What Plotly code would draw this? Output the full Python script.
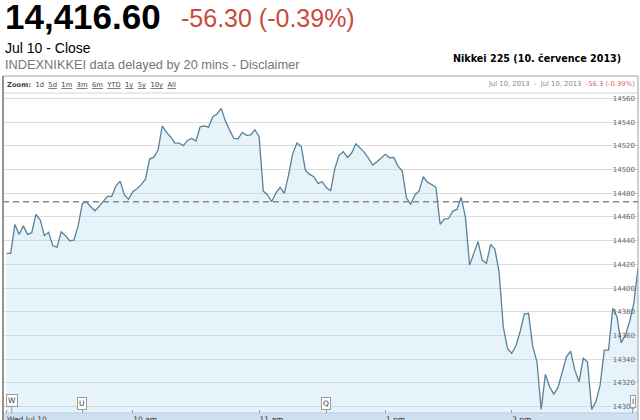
import plotly.graph_objects as go

# ---- data -------------------------------------------------------------
# trading-session minutes since 9:00 open (lunch break 11:30-12:30 removed), 2-minute samples
session_minutes = list(range(0, 301, 2))
prices = [
    14429.3, 14429.3, 14453.7, 14445.3, 14452.6, 14445.3, 14446.7, 14462.2, 14457.6, 14444.2,
    14447.0, 14435.7, 14434.6, 14447.5, 14444.2, 14439.9, 14440.5, 14452.3, 14471.1, 14472.8,
    14468.6, 14465.2, 14468.9, 14473.4, 14477.4, 14477.4, 14486.3, 14490.2, 14478.5, 14475.0,
    14481.2, 14483.7, 14487.2, 14491.9, 14508.8, 14510.4, 14516.4, 14536.9, 14531.3, 14527.4,
    14522.3, 14522.3, 14520.1, 14524.5, 14526.2, 14524.0, 14536.0, 14536.8, 14535.7, 14544.5,
    14546.8, 14551.5, 14540.8, 14533.2, 14526.2, 14525.9, 14531.3, 14528.8, 14529.1, 14533.5,
    14527.6, 14481.8, 14478.5, 14472.8, 14480.4, 14484.9, 14479.9, 14495.3, 14513.6, 14522.3,
    14519.5, 14499.5, 14495.9, 14493.9, 14488.3, 14489.7, 14484.6, 14482.1, 14500.9, 14512.2,
    14515.0, 14510.2, 14514.1, 14521.7, 14517.8, 14514.4, 14509.3, 14503.8, 14506.5, 14509.3,
    14512.8, 14509.9, 14510.2, 14502.9, 14498.7, 14476.2, 14470.6, 14478.5, 14481.8, 14493.9,
    14489.1, 14487.4, 14484.9, 14453.7, 14458.2, 14458.7, 14464.9, 14466.3, 14476.5, 14460.1,
    14419.4, 14429.3, 14439.1, 14423.6, 14420.8, 14436.9, 14432.9, 14413.8, 14367.4, 14349.2,
    14344.9, 14351.4, 14363.2, 14378.1, 14378.7, 14350.6, 14337.9, 14297.7, 14327.2, 14316.8,
    14310.6, 14316.3, 14330.3, 14342.1, 14346.9, 14330.8, 14321.0, 14340.8, 14337.9, 14297.7,
    14304.1, 14318.2, 14347.7, 14347.7, 14382.9, 14375.9, 14353.9, 14360.4, 14371.6, 14387.1,
    14416.6,
]
prev_close = 14472.90
last_price_text = "14,416.60"
change_text = "-56.30 (-0.39%)"

tick_minutes = [0, 60, 120, 180, 240]
tick_labels = ["Wed Jul 10", "10 am", "11 am", "1 pm", "2 pm"]
y_ticks = [14300, 14320, 14340, 14360, 14380, 14400, 14420, 14440,
           14460, 14480, 14500, 14520, 14540, 14560]

flag_minutes = [2.5, 36.1, 152.0, 297.4]
flag_letters = ["W", "U", "Q", "I"]
flag_heights = [12.2, 9.5, 9.5, 11.3]

# ---- geometry helpers (page pixels -> paper coords) --------------------
L, R, T, B = 3, 2, 93, 7
W, H = 640, 420
PW, PH = W - L - R, H - T - B


def px(x):
    return (x - L) / PW


def py(y):
    return (H - B - y) / PH


fig = go.Figure()
fig.add_trace(go.Scatter(
    x=session_minutes, y=prices, mode="lines",
    line=dict(color="#5a8296", width=1.3),
    fill="tozeroy", fillcolor="rgba(178,218,242,0.32)",
    hoverinfo="skip",
))

shapes = [
    # x-axis band
    dict(type="rect", xref="paper", yref="paper", x0=0, x1=1, y0=-0.05, y1=0,
         fillcolor="#cfe0f1", line=dict(width=0), layer="below"),
    dict(type="line", xref="paper", yref="paper", x0=0, x1=1, y0=0, y1=0,
         line=dict(color="#b4cbe2", width=1)),
    # header separator
    dict(type="line", xref="paper", yref="paper", x0=0, x1=1, y0=1, y1=1,
         line=dict(color="#d4d4d4", width=1)),
    # outer frame
    dict(type="rect", xref="paper", yref="paper", x0=0, x1=1, y0=-0.05, y1=py(76),
         line=dict(color="#a0a0a0", width=1), fillcolor="rgba(0,0,0,0)"),
    dict(type="line", xref="paper", yref="paper", x0=0, x1=0, y0=-0.05, y1=py(76),
         line=dict(color="#808080", width=1.5)),
    # previous close
    dict(type="line", xref="paper", yref="y", x0=0, x1=1, y0=prev_close, y1=prev_close,
         line=dict(color="#8a8a8a", width=1.5, dash="6px,4px"), layer="above"),
]

annotations = [
    dict(text="<b>" + last_price_text + "</b>", x=px(3), y=py(17), xref="paper", yref="paper",
         xanchor="left", yanchor="middle", showarrow=False,
         font=dict(family="Liberation Sans, Arial", size=35, color="#000000")),
    dict(text=change_text, x=px(179), y=py(18), xref="paper", yref="paper",
         xanchor="left", yanchor="middle", showarrow=False,
         font=dict(family="Liberation Sans, Arial", size=25, color="#c84a3c")),
    dict(text="Jul 10 - Close", x=px(3), y=py(48), xref="paper", yref="paper",
         xanchor="left", yanchor="middle", showarrow=False,
         font=dict(family="Liberation Sans, Arial", size=14, color="#000000")),
    dict(text="INDEXNIKKEI data delayed by 20 mins - Disclaimer", x=px(3), y=py(64),
         xref="paper", yref="paper", xanchor="left", yanchor="middle", showarrow=False,
         font=dict(family="Liberation Sans, Arial", size=12.8, color="#767676")),
    dict(text="<b>Nikkei 225 (10. července 2013)</b>", x=px(451), y=py(58),
         xref="paper", yref="paper", xanchor="left", yanchor="middle", showarrow=False,
         font=dict(family="DejaVu Sans", size=9.6, color="#000000")),
    dict(text="<b>Zoom:</b>  1d  <u>5d</u>  <u>1m</u>  <u>3m</u>  <u>6m</u>  <u>YTD</u>  "
              "<u>1y</u>  <u>5y</u>  <u>10y</u>  <u>All</u>",
         x=px(5), y=py(85), xref="paper", yref="paper", xanchor="left", yanchor="middle",
         showarrow=False, font=dict(family="DejaVu Sans", size=6.8, color="#444444")),
    dict(text="Jul 10, 2013  -  Jul 10, 2013  <span style='color:#d06a6a'>-56.3 (-0.39%)</span>",
         x=px(637), y=py(84), xref="paper", yref="paper", xanchor="right", yanchor="middle",
         showarrow=False, font=dict(family="DejaVu Sans", size=6.8, color="#8a8a8a")),
]

for m, letter, h in zip(flag_minutes, flag_letters, flag_heights):
    annotations.append(dict(
        text=letter, x=m, y=0, xref="x", yref="paper", showarrow=True,
        ax=0, ay=-h, arrowhead=0, arrowwidth=1, arrowcolor="#9a9a9a",
        font=dict(family="DejaVu Sans", size=7.5, color="#333333"),
        bgcolor="#ffffff", bordercolor="#9a9a9a", borderwidth=1, borderpad=1,
    ))

fig.update_layout(
    width=W, height=H,
    margin=dict(l=L, r=R, t=T, b=B),
    paper_bgcolor="#ffffff", plot_bgcolor="#ffffff",
    showlegend=False,
    shapes=shapes,
    annotations=annotations,
    xaxis=dict(
        range=[-1.66, 300], tickvals=tick_minutes, ticktext=tick_labels,
        ticklabelposition="outside right", ticks="inside", ticklen=3,
        tickcolor="#9a9a9a", tickfont=dict(family="DejaVu Sans", size=7.5, color="#333333"),
        showgrid=False, zeroline=False, showline=False, automargin=False, fixedrange=True,
    ),
    yaxis=dict(
        side="right", range=[14294.7, 14564.5], tickvals=y_ticks, tickformat="d",
        ticklabelposition="inside", ticks="",
        tickfont=dict(family="DejaVu Sans", size=7, color="#666666"),
        gridcolor="#dcdcdc", gridwidth=1, zeroline=False, showline=False,
        automargin=False, fixedrange=True,
    ),
)

fig.write_html(
    "out.html",
    config={"displayModeBar": False},
    post_script="document.body.style.margin='0';document.body.style.overflow='hidden';",
)
